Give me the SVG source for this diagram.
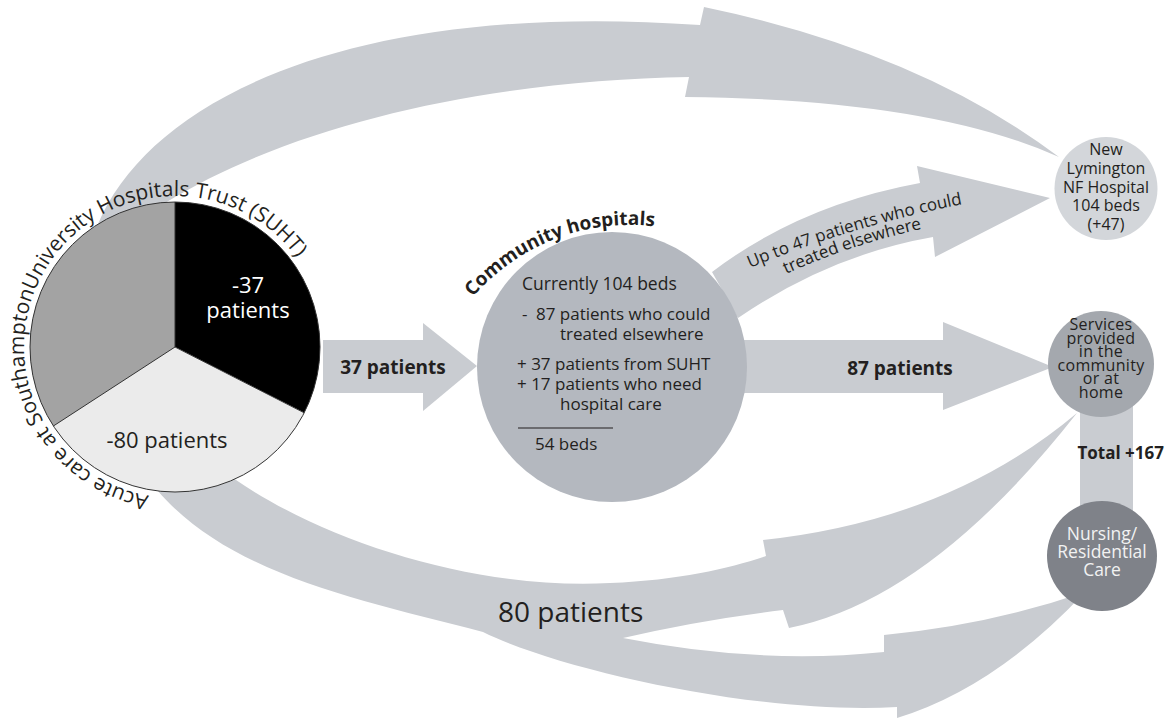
<svg xmlns="http://www.w3.org/2000/svg" width="1165" height="720" viewBox="0 0 1165 720">
<style>
text{font-family:"Open Sans","Noto Sans","Liberation Sans",sans-serif;fill:#231f20}
.band{fill:#c9ccd1}
.b{font-weight:bold}
.c{text-anchor:middle}
.w{fill:#f2f2f2}
</style>
<defs>
<path id="pieArc" d="M 148.8,495.7 A 151 151 0 1 1 311.9,283.2"/>
<path id="comArc" d="M 473,297 A 207 207 0 0 1 683.6,232"/>
<path id="up1" d="M 750,268 Q 860,222 990,199"/>
<path id="up2" d="M 786,274 Q 860,240 950,223"/>
</defs>
<rect width="1165" height="720" fill="#fff"/>
<g id="connectors">
<path class="band" d="M 98,224 C 150,100 350,0 700,25 L 704,7 Q 920,52 1059,157 Q 930,99 685,97 L 689,77 C 500,80 300,120 165,203 Z"/>
<path class="band" d="M 712,272 Q 800,205 920,183 L 917,166 L 1050,198 L 935,257 L 933,237 Q 830,255 738,318 Z"/>
<polygon class="band" points="323,340 423,340 423,323 477,366 423,411 423,393 323,393"/>
<polygon class="band" points="740,340 943,340 943,322 1053,367 943,410 943,393 740,393"/>
<path class="band" d="M 233,478 C 330,545 480,590 610,583 C 680,580 730,568 766,556 L 763,540 Q 950,520 1077,413 Q 930,600 789,628 L 783,610 Q 700,620 623,638 Q 760,665 884,652 L 884,635 Q 990,625 1085,592 Q 995,688 897,718 L 897,707 C 760,715 560,670 483,632 C 360,600 230,575 157,490 Z"/>
<rect class="band" x="1080" y="400" width="53" height="120"/>
<text class="b" x="393" y="374" font-size="19" text-anchor="middle">37 patients</text>
<text class="b" x="900" y="375" font-size="19" text-anchor="middle">87 patients</text>
<text font-size="17"><textPath href="#up1">Up to 47 patients who could</textPath></text>
<text font-size="17"><textPath href="#up2">treated elsewhere</textPath></text>
<text x="498" y="622" font-size="28">80 patients</text>
<text class="b" x="1164" y="459" font-size="17" text-anchor="end">Total +167</text>
</g>
<g id="suht">
<path d="M 175,347 L 175,202 A 145 145 0 0 1 304.2,412.8 Z" fill="#000"/>
<path d="M 175,347 L 304.2,412.8 A 145 145 0 0 1 53.4,426 Z" fill="#ebebeb"/>
<path d="M 175,347 L 53.4,426 A 145 145 0 0 1 175,202 Z" fill="#a3a3a3"/>
<g stroke="#333" stroke-width="1" fill="none">
<circle cx="175" cy="347" r="145"/>
<path d="M 175,202 L 175,347 L 304.2,412.8 M 175,347 L 53.4,426"/>
</g>
<text class="c" x="248" y="293" font-size="22" style="fill:#fff">-37</text>
<text class="c" x="248" y="318" font-size="22" style="fill:#fff">patients</text>
<text class="c" x="167" y="448" font-size="22">-80 patients</text>
<text font-size="21"><textPath href="#pieArc">Acute care at SouthamptonUniversity Hospitals Trust (SUHT)</textPath></text>
</g>
<g id="community">
<circle cx="612" cy="367" r="135" fill="#b4b8bf"/>
<text class="b" font-size="19"><textPath href="#comArc">Community hospitals</textPath></text>
<text x="522" y="290" font-size="17.5">Currently 104 beds</text>
<text x="522" y="320" font-size="17">-<tspan x="536">87 patients who could</tspan></text>
<text x="560" y="340" font-size="17">treated elsewhere</text>
<text x="517" y="370" font-size="17">+ 37 patients from SUHT</text>
<text x="517" y="390" font-size="17">+ 17 patients who need</text>
<text x="560" y="410" font-size="17">hospital care</text>
<line x1="518" y1="428" x2="613" y2="428" stroke="#231f20" stroke-width="1.2"/>
<text x="535" y="450" font-size="17">54 beds</text>
</g>
<g id="newlymington">
<circle cx="1106" cy="188.5" r="51.5" fill="#d3d6da"/>
<text class="c" x="1106" y="155" font-size="16">New</text>
<text class="c" x="1106" y="174" font-size="16">Lymington</text>
<text class="c" x="1106" y="192.5" font-size="16">NF Hospital</text>
<text class="c" x="1106" y="211" font-size="16">104 beds</text>
<text class="c" x="1106" y="229.5" font-size="16">(+47)</text>
</g>
<g id="services">
<circle cx="1101" cy="364" r="53" fill="#a4a8ae"/>
<g font-size="16" letter-spacing="0.3">
<text class="c" x="1101" y="330">Services</text>
<text class="c" x="1101" y="343.5">provided</text>
<text class="c" x="1101" y="357">in the</text>
<text class="c" x="1101" y="370.5">community</text>
<text class="c" x="1101" y="384">or at</text>
<text class="c" x="1101" y="397.5">home</text>
</g>
</g>
<g id="nursing">
<circle cx="1102" cy="556" r="55" fill="#7f8289"/>
<text class="c" x="1102" y="540" font-size="17.5" style="fill:#f2f2f2">Nursing/</text>
<text class="c" x="1102" y="558" font-size="17.5" style="fill:#f2f2f2">Residential</text>
<text class="c" x="1102" y="576" font-size="17.5" style="fill:#f2f2f2">Care</text>
</g>
</svg>
